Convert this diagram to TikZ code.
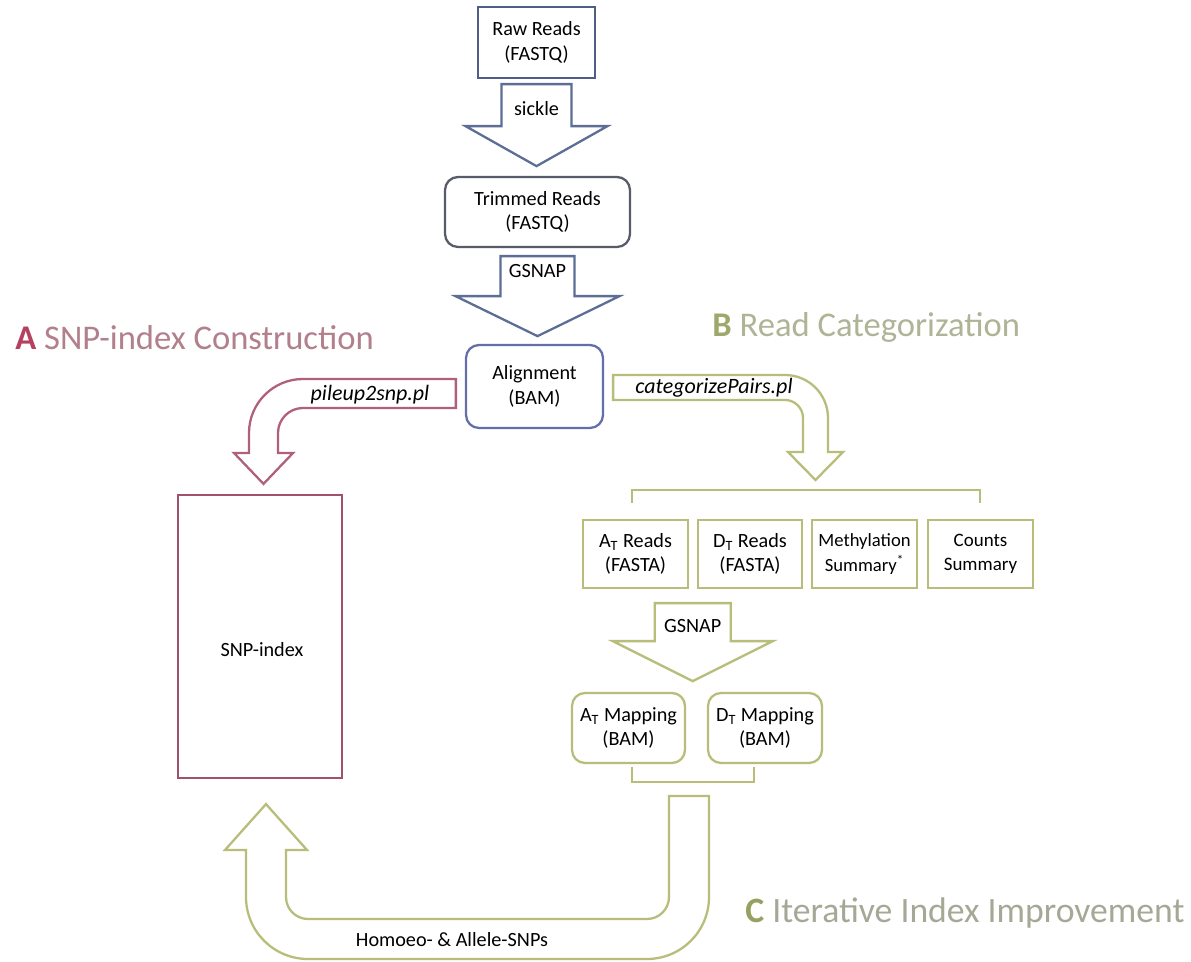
\documentclass[tikz,border=0pt]{standalone}
\usepackage{fontspec}
\setmainfont{Carlito}
\usetikzlibrary{calc}
\definecolor{bluearr}{RGB}{92,110,150}
\definecolor{bluebox}{RGB}{78,94,132}
\definecolor{graybox}{RGB}{88,92,104}
\definecolor{alignbox}{RGB}{100,110,168}
\definecolor{redbox}{RGB}{160,82,106}
\definecolor{redarr}{RGB}{176,96,122}
\definecolor{redA}{RGB}{181,64,95}
\definecolor{redT}{RGB}{178,128,140}
\definecolor{greenline}{RGB}{184,190,122}
\definecolor{greenB}{RGB}{158,168,106}
\definecolor{greenT}{RGB}{176,180,150}
\definecolor{greenC}{RGB}{150,160,96}
\definecolor{greenCT}{RGB}{166,168,150}
\tikzset{
  boxtext/.style={font=\fontsize{11.5}{14}\selectfont, align=center, text=black},
  sqbox/.style={draw=#1, line width=1.3pt, fill=white, inner sep=0pt, boxtext},
  rdbox/.style={draw=#1, line width=1.3pt, fill=white, inner sep=0pt, rounded corners=0.26cm, boxtext},
  barrow/.style={draw=#1, line width=1.3pt, fill=white, line join=miter},
  lbl/.style={font=\fontsize{11.5}{14}\selectfont, text=black, inner sep=0pt},
  ilbl/.style={font=\fontsize{12.5}{14}\selectfont\itshape, text=black, inner sep=0pt},
  title/.style={font=\fontsize{19.7}{22}\selectfont, anchor=west, inner sep=0pt},
  bracketline/.style={draw=greenline, line width=1.3pt}
}
\begin{document}
\begin{tikzpicture}[x=0.02cm,y=-0.02cm]
\useasboundingbox (0,0) rectangle (1191,962);
\fill[white] (0,0) rectangle (1191,962);

% ---------- main column ----------
\node[sqbox=bluebox, minimum width=2.34cm, minimum height=1.42cm] (raw) at (536.5,42.5) {Raw Reads\\(FASTQ)};
\node[rdbox=graybox, minimum width=3.70cm, minimum height=1.40cm] (trim) at (537.5,212) {Trimmed Reads\\(FASTQ)};
\node[rdbox=alignbox, minimum width=2.74cm, minimum height=1.66cm] (align) at (534.5,386.5) {Alignment\\(BAM)};

\draw[barrow=bluearr] (raw.south) ++(-35,5) -- ++(0,42) -- ++(-36,0) -- ++(71,40) -- ++(71,-40) -- ++(-36,0) -- ++(0,-42) -- cycle;
\node[lbl] (sickle) at ($(raw.south)+(0,29)$) {sickle};

\draw[barrow=bluearr] (trim.south) ++(-37,8) -- ++(0,40) -- ++(-45,0) -- ++(82,40) -- ++(82,-40) -- ++(-45,0) -- ++(0,-40) -- cycle;
\node[lbl] (gsnapA) at ($(trim.south)+(0,23)$) {GSNAP};

% ---------- A: SNP-index ----------
\node[title] (titleA) at (15,338) {\textcolor{redA}{\textbf{A}} \textcolor{redT}{SNP-index Construction}};
\node[sqbox=redbox, minimum width=3.28cm, minimum height=5.66cm] (snp) at (260,636.5) {};
\node[lbl] (snplbl) at (262,650) {SNP-index};

\draw[barrow=redarr] ($(align.west)+(-9,-7.5)$) -- (303,379) arc(-90:-180:54) -- (249,453) -- (234,453) -- ($(snp.north)+(3.5,-10)$) -- (293,453) -- (278,453) -- (278,433) arc(180:270:25) -- ($(align.west)+(-9,21.5)$) -- cycle;
\node[ilbl] (pileup) at (370,395) {pileup2snp.pl};

% ---------- B: Read categorization ----------
\node[title] (titleB) at (712,327) {\textcolor{greenB}{\textbf{B}} \textcolor{greenT}{Read Categorization}};

\draw[barrow=greenline] ($(align.east)+(9,-11.5)$) -- (785,375) arc(-90:0:43) -- (828,452) -- (843,452) -- (815.5,480) -- (788,452) -- (803,452) -- (803,418) arc(0:-90:18) -- ($(align.east)+(9,13.5)$) -- cycle;
\node[ilbl] (catp) at (714,388) {categorizePairs.pl};

\draw[bracketline] (632,503) -- (632,490) -- (980,490) -- (980,503);

\node[sqbox=greenline, minimum width=2.10cm, minimum height=1.36cm] (at) at (635.5,554) {A\textsubscript{T} Reads\\(FASTA)};
\node[sqbox=greenline, minimum width=2.08cm, minimum height=1.36cm] (dt) at (750,554) {D\textsubscript{T} Reads\\(FASTA)};
\node[sqbox=greenline, minimum width=2.10cm, minimum height=1.36cm, font=\fontsize{10.6}{14}\selectfont] (meth) at (864.5,554) {Methylation\\Summary\textsuperscript{*}};
\node[sqbox=greenline, minimum width=2.10cm, minimum height=1.36cm, font=\fontsize{10.8}{14}\selectfont] (counts) at (980.5,554) {Counts\\Summary};

\draw[barrow=greenline] ($(at.south)!0.5!(dt.south)$) ++(-38,14) -- ++(0,38) -- ++(-42,0) -- ++(80,40) -- ++(80,-40) -- ++(-42,0) -- ++(0,-38) -- cycle;
\node[lbl] (gsnapB) at ($($(at.south)!0.5!(dt.south)$)+(0,37)$) {GSNAP};

\node[rdbox=greenline, minimum width=2.26cm, minimum height=1.40cm] (atm) at (628.5,728) {A\textsubscript{T} Mapping\\(BAM)};
\node[rdbox=greenline, minimum width=2.28cm, minimum height=1.40cm] (dtm) at (765,728) {D\textsubscript{T} Mapping\\(BAM)};

\draw[bracketline] (632,767) -- (632,782) -- (754,782) -- (754,767);

% ---------- C: Iterative improvement ----------
\draw[barrow=greenline] (669,796) -- (709,796) -- (709,897) arc(0:90:62) -- (308,959) arc(90:180:62) -- (246,850) -- (225,850) -- ($(snp.south)+(6,25)$) -- (307,850) -- (286,850) -- (286,897) arc(180:90:22) -- (647,919) arc(90:0:22) -- cycle;
\node[lbl] (homoeo) at (452,940) {Homoeo- \& Allele-SNPs};

\node[title, font=\fontsize{20.3}{22}\selectfont] (titleC) at (745,913) {\textcolor{greenC}{\textbf{C}} \textcolor{greenCT}{Iterative Index Improvement}};
\end{tikzpicture}
\end{document}
